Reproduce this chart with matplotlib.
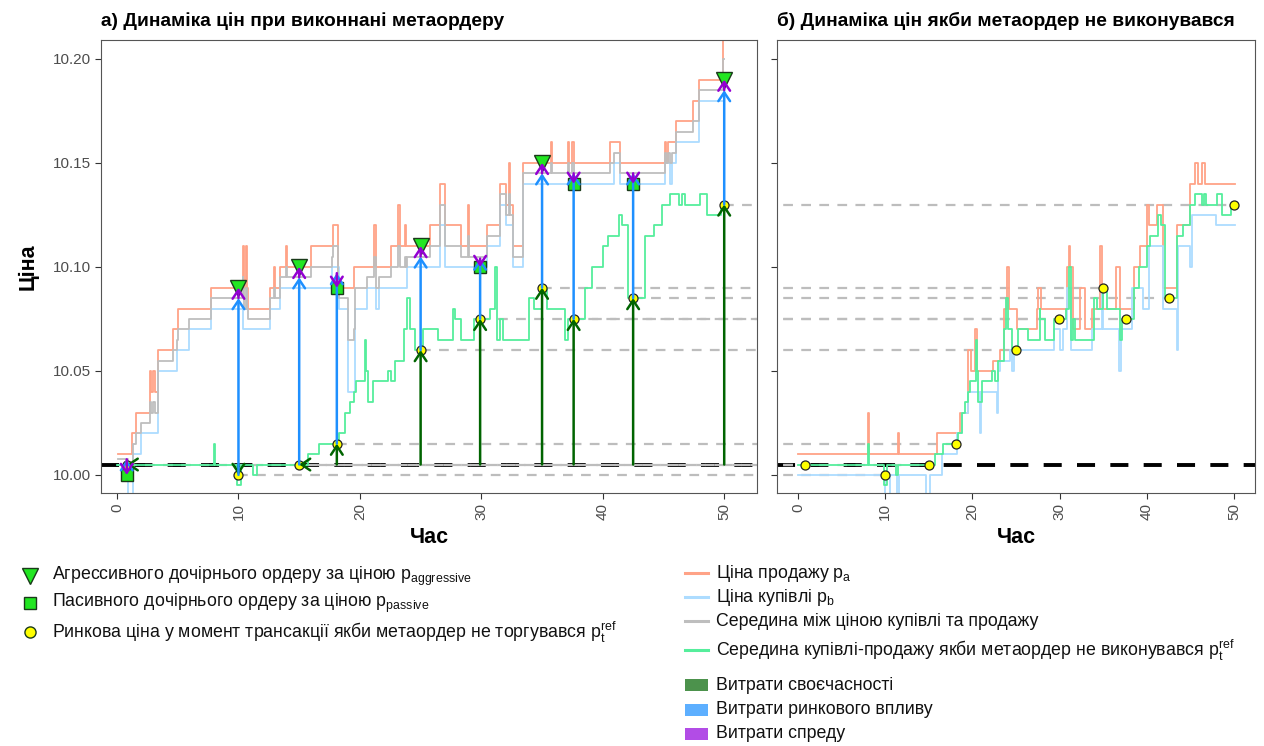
import numpy as np
import matplotlib
matplotlib.use("Agg")
import matplotlib.pyplot as plt
from matplotlib.patches import Rectangle

plt.rcParams["font.family"] = ["Liberation Sans", "DejaVu Sans"]
plt.rcParams["mathtext.fontset"] = "custom"
plt.rcParams["mathtext.rm"] = "Liberation Sans"
plt.rcParams["mathtext.it"] = "Liberation Sans"
plt.rcParams["lines.scale_dashes"] = False

# --- панель а: книга заявок під час виконання метаордеру (час, ціна; step "post") ---
ask_a_t = [0.1, 1.2, 1.6, 2.7, 2.8, 3.0, 3.1, 3.4, 4.6, 5.0, 7.7, 10.35, 10.45, 10.6, 10.7,
           10.8, 12.6, 12.9, 13.0, 13.4, 13.9, 14.0, 16.0, 17.8, 18.2, 19.5, 21.2, 21.35,
           22.6, 23.1, 23.3, 23.7, 23.8, 25.8, 26.6, 27.0, 28.3, 28.9, 29.0, 30.5, 31.5,
           32.0, 32.3, 32.4, 32.6, 33.4, 35.7, 35.8, 37.1, 37.2, 37.5, 37.6, 40.6, 41.4,
           45.1, 45.2, 45.4, 46.0, 47.4, 47.9, 49.9, 50.0]
ask_a_p = [10.01, 10.02, 10.03, 10.05, 10.04, 10.05, 10.04, 10.06, 10.07, 10.08, 10.09, 10.11,
           10.09, 10.11, 10.09, 10.08, 10.09, 10.10, 10.09, 10.10, 10.11, 10.10, 10.11, 10.12,
           10.09, 10.10, 10.12, 10.10, 10.11, 10.13, 10.11, 10.12, 10.11, 10.12, 10.14,
           10.12, 10.11, 10.13, 10.11, 10.12, 10.14, 10.13, 10.15, 10.13, 10.11, 10.15,
           10.16, 10.15, 10.16, 10.15, 10.16, 10.15, 10.16, 10.15, 10.16, 10.15, 10.16,
           10.17, 10.18, 10.19, 10.22, 10.22]
bid_a_t = [0.1, 0.9, 1.3, 2.0, 3.4, 4.9, 5.9, 7.7, 10.4, 12.6, 13.4, 17.7, 18.3, 19.0, 19.6,
           20.6, 21.3, 21.6, 23.9, 26.6, 27.0, 30.5, 31.5, 32.0, 32.6, 33.4, 40.9, 41.4,
           45.1, 45.5, 45.7, 46.0, 47.9, 50.0]
bid_a_p = [10.005, 9.985, 10.01, 10.02, 10.05, 10.06, 10.07, 10.08, 10.07, 10.08, 10.09,
           10.10, 10.08, 10.04, 10.08, 10.09, 10.08, 10.09, 10.10, 10.12, 10.10, 10.11,
           10.13, 10.12, 10.10, 10.14, 10.15, 10.14, 10.15, 10.14, 10.15, 10.16, 10.18, 10.18]

# --- середина котирувань, якби метаордер не виконувався (p_ref) ---
ref_t = [0.0, 8.0, 8.1, 9.9, 10.2, 11.2, 11.5, 15.7, 16.6, 18.3, 18.8, 19.2, 19.5, 19.7,
         20.4, 20.5, 20.7, 21.1, 22.3, 22.6, 22.9, 23.6, 23.9, 24.1, 24.5, 25.2, 26.4,
         27.7, 27.8, 28.3, 29.4, 30.7, 31.1, 31.3, 31.5, 31.8, 33.9, 34.3, 35.0, 35.4,
         36.9, 37.1, 38.5, 39.1, 40.0, 40.4, 41.3, 41.6, 42.1, 43.5, 44.2, 44.9, 45.5,
         46.3, 46.5, 46.8, 48.0, 48.6, 49.7, 50.1]
ref_p = [10.005, 10.015, 10.005, 9.995, 10.005, 10.0, 10.005, 10.01, 10.015, 10.02, 10.03,
         10.035, 10.04, 10.045, 10.065, 10.05, 10.035, 10.045, 10.05, 10.045, 10.055,
         10.07, 10.085, 10.07, 10.06, 10.07, 10.065, 10.08, 10.075, 10.065, 10.075, 10.08,
         10.10, 10.065, 10.075, 10.065, 10.085, 10.08, 10.09, 10.08, 10.065, 10.075,
         10.09, 10.10, 10.11, 10.115, 10.125, 10.12, 10.085, 10.115, 10.12, 10.13, 10.135,
         10.13, 10.135, 10.13, 10.135, 10.125, 10.13, 10.13]

# --- панель б: книга заявок без метаордеру ---
ask_b_t = [0.0, 8.0, 8.15, 11.5, 11.6, 15.9, 18.6, 19.5, 19.8, 20.3, 20.5, 22.4, 23.2, 23.6,
           24.0, 24.15, 25.1, 27.4, 27.5, 27.9, 30.9, 31.1, 31.2, 31.5, 32.3, 32.9, 33.7,
           34.6, 34.9, 36.5, 36.9, 38.5, 39.2, 40.0, 40.3, 41.2, 41.9, 43.5, 44.9, 45.5,
           45.9, 46.3, 46.7, 50.1]
ask_b_p = [10.01, 10.03, 10.01, 10.02, 10.01, 10.02, 10.03, 10.06, 10.05, 10.07, 10.05,
           10.055, 10.06, 10.08, 10.10, 10.08, 10.07, 10.08, 10.09, 10.08, 10.10, 10.11,
           10.10, 10.07, 10.09, 10.07, 10.08, 10.11, 10.08, 10.10, 10.08, 10.10, 10.11,
           10.13, 10.12, 10.13, 10.09, 10.12, 10.14, 10.15, 10.14, 10.15, 10.14, 10.14]
bid_b_t = [0.0, 10.0, 10.5, 11.3, 11.6, 14.7, 15.1, 16.5, 18.2, 18.8, 19.5, 20.9, 21.0,
           22.8, 22.9, 23.2, 24.3, 24.5, 24.8, 29.3, 30.1, 30.4, 30.9, 31.3, 33.7, 34.9,
           35.0, 36.8, 37.0, 38.3, 39.6, 40.2, 41.9, 43.5, 43.6, 44.9, 45.2, 47.9, 50.1]
bid_b_p = [10.00, 9.98, 10.00, 9.98, 10.00, 9.98, 10.00, 10.01, 10.02, 10.03, 10.04, 10.02,
           10.04, 10.03, 10.05, 10.055, 10.06, 10.05, 10.06, 10.07, 10.06, 10.07, 10.09,
           10.06, 10.07, 10.09, 10.07, 10.05, 10.07, 10.09, 10.08, 10.11, 10.08, 10.06,
           10.11, 10.10, 10.125, 10.12, 10.12]

# --- дочірні ордери ---
trade_t = [0.8, 10.0, 15.0, 18.1, 25.0, 29.9, 35.0, 37.6, 42.5, 50.0]
trade_kind = ["passive", "aggressive", "aggressive", "passive", "aggressive",
              "passive", "aggressive", "passive", "passive", "aggressive"]
trade_price = [10.00, 10.09, 10.10, 10.09, 10.11, 10.10, 10.15, 10.14, 10.14, 10.19]
trade_mid = [10.0075, 10.085, 10.095, 10.097, 10.105, 10.104, 10.145, 10.145, 10.145, 10.185]
trade_ref = [10.005, 10.00, 10.005, 10.015, 10.06, 10.075, 10.09, 10.075, 10.085, 10.13]
arrival_price = 10.005

C_ASK = "#FFA387"
C_BID = "#ADDCFF"
C_MID = "#BEBEBE"
C_REF = "#55EE9C"
C_GREEN_ARR = "#006400"
C_BLUE_ARR = "#1E90FF"
C_PURPLE_ARR = "#9400D3"
C_MARK = "#22E622"


def mid_series(at, ap, bt, bp):
    grid = np.union1d(at, bt)
    a = np.asarray(ap)[np.searchsorted(at, grid, side="right") - 1]
    b = np.asarray(bp)[np.searchsorted(bt, grid, side="right") - 1]
    return grid, (a + b) / 2


def arrow(ax, t, y0, y1, color):
    props = dict(arrowstyle="->,head_length=0.45,head_width=0.3", color=color, lw=1.8,
                 shrinkA=0, shrinkB=0, mutation_scale=14)
    if abs(y1 - y0) < 1e-9:
        # стрілка нульової довжини: лише наконечник, як у ggplot
        ax.annotate("", xy=(t, y1), xytext=(4, 0), textcoords="offset points",
                    arrowprops=props, zorder=6)
        return
    ax.annotate("", xy=(t, y1), xytext=(t, y0), arrowprops=props, zorder=6)


W, H = 1264, 746
fig = plt.figure(figsize=(W / 100, H / 100), dpi=100)
ax_a = fig.add_axes([101 / W, 1 - 493 / H, (757 - 101) / W, (493 - 40) / H])
ax_b = fig.add_axes([777 / W, 1 - 493 / H, (1255 - 777) / W, (493 - 40) / H])

YLIM = (9.9913, 10.2091)
black_dash = dict(color="black", lw=2.8, linestyle=(0, (13, 11)), zorder=1.6)
grey_dash = dict(color="#BDBDBD", lw=1.6, linestyle=(0, (7, 6)), zorder=1.7)
TITLE_KW = dict(loc="left", fontsize=13.8, fontweight="bold", pad=10)

# ---- панель а ----
ax = ax_a
ax.axhline(arrival_price, **black_dash)
for t, r in zip(trade_t, trade_ref):
    ax.plot([t, 60], [r, r], **grey_dash)
ax.step(ask_a_t, ask_a_p, where="post", color=C_ASK, lw=1.3, zorder=2)
ax.step(bid_a_t, bid_a_p, where="post", color=C_BID, lw=1.3, zorder=2)
mt, mp = mid_series(ask_a_t, ask_a_p, bid_a_t, bid_a_p)
ax.step(mt, mp, where="post", color=C_MID, lw=1.3, zorder=2.1)
ax.step(ref_t[:-1] + [50.0], ref_p, where="post", color=C_REF, lw=1.3, zorder=2.2)

for t, k, p in zip(trade_t, trade_kind, trade_price):
    if k == "aggressive":
        ax.plot(t, p, marker="v", ms=11, mfc=C_MARK, mec="#1A3A1A", mew=1.0, zorder=4)
    else:
        ax.plot(t, p, marker="s", ms=8, mfc=C_MARK, mec="#1A3A1A", mew=1.0, zorder=4)
ax.plot(trade_t, trade_ref, "o", ms=6.5, mfc="#FFFF00", mec="#222222", mew=0.9, zorder=4)

for t, r, m, p in zip(trade_t, trade_ref, trade_mid, trade_price):
    arrow(ax, t, arrival_price, r, C_GREEN_ARR)
    arrow(ax, t, r, m, C_BLUE_ARR)
    arrow(ax, t, m, p, C_PURPLE_ARR)

ax.set_xlim(-1.32, 52.7)
ax.set_ylim(*YLIM)
ax.set_yticks([10.00, 10.05, 10.10, 10.15, 10.20])
ax.set_yticklabels(["10.00", "10.05", "10.10", "10.15", "10.20"])
ax.set_ylabel("Ціна", fontsize=15.5, fontweight="bold", labelpad=10)
ax.set_title("a) Динаміка цін при виконнані метаордеру", **TITLE_KW)

# ---- панель б ----
ax = ax_b
ax.axhline(arrival_price, **black_dash)
for t, r in zip(trade_t, trade_ref):
    ax.plot([-10, t], [r, r], **grey_dash)
ax.step(ask_b_t, ask_b_p, where="post", color=C_ASK, lw=1.3, zorder=2)
ax.step(bid_b_t, bid_b_p, where="post", color=C_BID, lw=1.3, zorder=2)
ax.step(ref_t, ref_p, where="post", color=C_REF, lw=1.3, zorder=2.2)
ax.plot(trade_t, trade_ref, "o", ms=6.5, mfc="#FFFF00", mec="#222222", mew=0.9, zorder=4)
ax.set_xlim(-2.4, 52.4)
ax.set_ylim(*YLIM)
ax.set_yticks([10.00, 10.05, 10.10, 10.15, 10.20])
ax.set_yticklabels([])
ax.set_title("б) Динаміка цін якби метаордер не виконувався", **TITLE_KW)

for ax in (ax_a, ax_b):
    ax.set_xticks([0, 10, 20, 30, 40, 50])
    ax.set_xticklabels(["0", "10", "20", "30", "40", "50"], rotation=90)
    ax.set_xlabel("Час", fontsize=15.5, fontweight="bold", labelpad=5)
    ax.tick_params(direction="out", length=4, width=0.8, color="#333333",
                   labelcolor="#4D4D4D", labelsize=11)
    for s in ax.spines.values():
        s.set_color("#555555")
        s.set_linewidth(0.8)

# ---- легенди (в пікселях фігури) ----
lg = fig.add_axes([0, 0, 1, 1])
lg.set_xlim(0, W)
lg.set_ylim(H, 0)
lg.axis("off")

LEG_FS = 12.8
shape_labels = [
    ("v", 11, "Агрессивного дочірнього ордеру за ціною $\\mathregular{p_{aggressive}}$"),
    ("s", 8, "Пасивного дочірнього ордеру за ціною $\\mathregular{p_{passive}}$"),
    ("o", 8, "Ринкова ціна у момент трансакції якби метаордер не торгувався $\\mathregular{p_t^{ref}}$"),
]
for (mk, ms, lab), y in zip(shape_labels, [576, 603, 632]):
    fc = "#FFFF00" if mk == "o" else C_MARK
    lg.plot(30, y, marker=mk, ms=ms, mfc=fc, mec="#1A3A1A", mew=1.0)
    lg.text(52, y, lab, fontsize=LEG_FS, va="center", ha="left", color="#111111")

line_items = [
    (C_ASK, "Ціна продажу $\\mathregular{p_a}$", 573),
    (C_BID, "Ціна купівлі $\\mathregular{p_b}$", 597),
    (C_MID, "Середина між ціною купівлі та продажу", 621),
    (C_REF, "Середина купівлі-продажу якби метаордер не виконувався $\\mathregular{p_t^{ref}}$", 650),
]
for c, lab, y in line_items:
    lg.plot([685, 708], [y, y], color=c, lw=2.2)
    lg.text(716, y, lab, fontsize=LEG_FS, va="center", ha="left", color="#111111")

patch_items = [
    ("#4C924C", "Витрати своєчасності", 685),
    ("#5DAFFF", "Витрати ринкового впливу", 710),
    ("#B24CE6", "Витрати спреду", 734),
]
for c, lab, y in patch_items:
    lg.add_patch(Rectangle((685, y - 6), 23, 12, facecolor=c, edgecolor="none"))
    lg.text(716, y, lab, fontsize=LEG_FS, va="center", ha="left", color="#111111")

fig.savefig("out.png", dpi=100)
